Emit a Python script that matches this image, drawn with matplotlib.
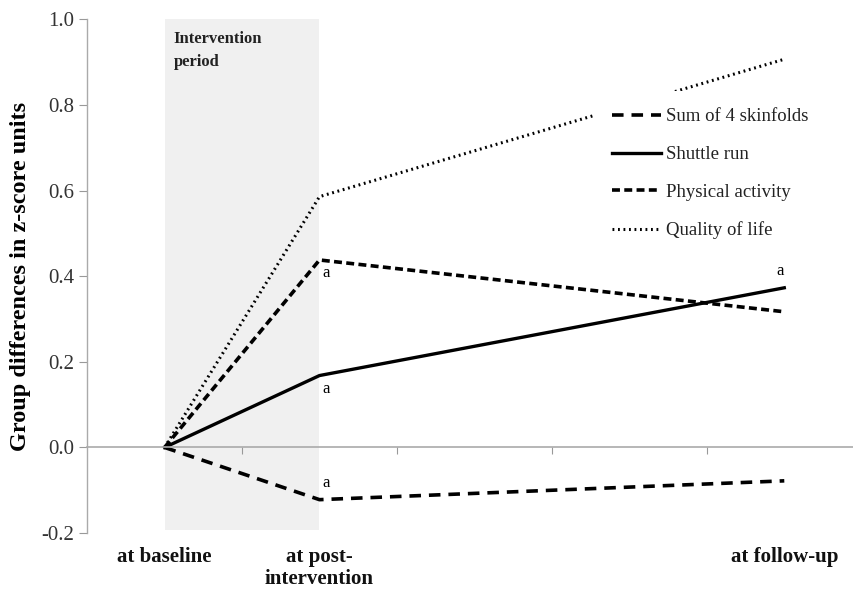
import matplotlib.pyplot as plt
from matplotlib.lines import Line2D

plt.rcParams['font.family'] = ['Liberation Serif', 'DejaVu Serif']

categories = ['at baseline', 'at post-\nintervention', '', '', 'at follow-up']
time_idx = [0, 1, 4]
skinfolds = [0.0, -0.122, -0.078]
shuttle_run = [0.0, 0.168, 0.373]
physical_activity = [0.0, 0.438, 0.317]
quality_of_life = [0.0, 0.586, 0.907]

fig = plt.figure(figsize=(8.54, 5.89), dpi=100)
ax = fig.add_axes([0.102, 0.095, 0.898, 0.872])

ax.axvspan(0, 1, ymin=(-0.193 + 0.2) / 1.2, ymax=1.0, color='#f0f0f0', zorder=0, lw=0)
ax.text(0.06, 0.972, 'Intervention\nperiod', fontsize=12, fontweight='bold', va='top', ha='left',
        linespacing=1.55, color='#222222')

l1, = ax.plot(time_idx, skinfolds, color='black', lw=2.6, dashes=(3.2, 2.2), label='Sum of 4 skinfolds')
l2, = ax.plot(time_idx, shuttle_run, color='black', lw=2.4, label='Shuttle run')
l3, = ax.plot(time_idx, physical_activity, color='black', lw=2.6, dashes=(2.2, 1.2), label='Physical activity')
l4, = ax.plot(time_idx, quality_of_life, color='black', lw=2.2, dashes=(0.6, 1.2), label='Quality of life')

# significance markers
ax.text(1.02, physical_activity[1] - 0.012, 'a', fontsize=12, va='top', ha='left')
ax.text(1.02, shuttle_run[1] - 0.012, 'a', fontsize=12, va='top', ha='left')
ax.text(1.02, skinfolds[1] + 0.02, 'a', fontsize=12, va='bottom', ha='left')
ax.text(3.95, shuttle_run[2] + 0.02, 'a', fontsize=12, va='bottom', ha='left')

ax.set_xlim(-0.5, 4.45)
ax.set_ylim(-0.2, 1.0)
ax.set_yticks([-0.2, 0.0, 0.2, 0.4, 0.6, 0.8, 1.0])
ax.set_yticklabels([f'{v:.1f}' for v in ax.get_yticks()], fontsize=15, color='#333333')
ax.set_xticks([0.5, 1.5, 2.5, 3.5])
ax.set_xticklabels([])
ax.tick_params(axis='y', direction='out', length=6, color='#999999', pad=3)
ax.tick_params(axis='x', direction='out', length=5, color='#999999')

for s in ['top', 'right']:
    ax.spines[s].set_visible(False)
ax.spines['bottom'].set_position(('data', 0))
ax.spines['bottom'].set_color('#aaaaaa')
ax.spines['left'].set_color('#aaaaaa')
ax.spines['bottom'].set_linewidth(1.2)
ax.spines['left'].set_linewidth(1.0)

for i, c in enumerate(categories):
    if c:
        ax.text(i, -0.233, c, fontsize=15, fontweight='bold', ha='center', va='top', linespacing=1.1,
                color='#111111')

ax.set_ylabel('Group differences in z-score units', fontsize=17.5, fontweight='bold', labelpad=8)

leg = ax.legend(handles=[l1, l2, l3, l4], loc='upper left', bbox_to_anchor=(586 / 854, 1 - 82 / 589),
                bbox_transform=fig.transFigure, frameon=True, facecolor='white', edgecolor='none',
                framealpha=1, fontsize=13.5, handlelength=2.6, handletextpad=0.25, labelspacing=1.1,
                borderpad=0.9, fancybox=False)
for t in leg.get_texts():
    t.set_color('#222222')

fig.savefig('out.png', dpi=100)
